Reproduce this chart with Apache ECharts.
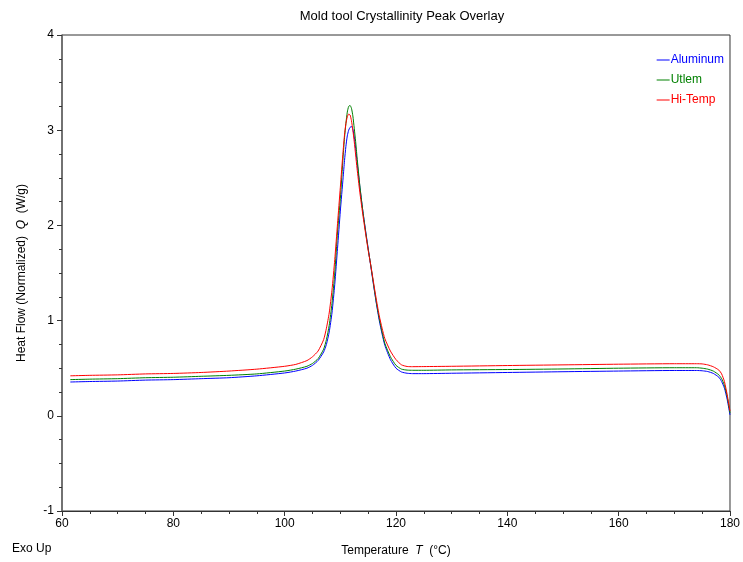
<!DOCTYPE html>
<html>
<head>
    <meta charset="utf-8">
    <title>Mold tool Crystallinity Peak Overlay</title>
    <script src="https://cdn.jsdelivr.net/npm/echarts@6/dist/echarts.min.js"></script>
    <style type="text/css">
        html, body { margin: 0; padding: 0; background: #fff; }
        #main { width: 743px; height: 562px; }
    </style>
</head>
<body>
    <div id="main"></div>
    <script type="text/javascript">
        // temperature (°C) shared by all three runs
        var temps = [61.5, 65, 70, 75, 80, 85, 90, 95, 100, 102, 104, 105, 106, 107, 107.5, 108, 108.5, 109, 109.5, 110,
            110.5, 110.75, 111, 111.25, 111.5, 111.75, 112, 112.25, 112.5, 112.75, 113, 113.5, 114, 114.5, 115, 115.5,
            116, 116.5, 117, 117.5, 118, 119, 120, 121, 122, 123, 125, 130, 140, 150, 160, 170, 174, 175, 176, 177,
            178, 178.5, 179, 179.5, 180];

        // heat flow (W/g)
        var aluminum = [0.355, 0.36, 0.365, 0.375, 0.38, 0.39, 0.40, 0.42, 0.45, 0.47, 0.50, 0.53, 0.58, 0.67, 0.75, 0.88,
            1.08, 1.38, 1.76, 2.15, 2.50, 2.68, 2.83, 2.94, 3.00, 3.03, 3.04, 3.01, 2.93, 2.81, 2.67, 2.41, 2.17, 1.96,
            1.76, 1.56, 1.36, 1.17, 1.00, 0.86, 0.74, 0.59, 0.50, 0.46, 0.447, 0.443, 0.443, 0.447, 0.455, 0.463, 0.47,
            0.476, 0.476, 0.473, 0.465, 0.445, 0.405, 0.36, 0.29, 0.17, 0.01];
        var utlem = [0.38, 0.385, 0.39, 0.40, 0.405, 0.415, 0.425, 0.44, 0.47, 0.49, 0.52, 0.55, 0.60, 0.70, 0.80, 0.95,
            1.18, 1.50, 1.93, 2.28, 2.72, 2.92, 3.07, 3.19, 3.25, 3.26, 3.23, 3.15, 3.02, 2.88, 2.72, 2.42, 2.17, 1.95,
            1.75, 1.57, 1.37, 1.18, 1.02, 0.88, 0.76, 0.62, 0.53, 0.49, 0.48, 0.478, 0.478, 0.482, 0.486, 0.492, 0.50,
            0.505, 0.505, 0.50, 0.49, 0.47, 0.43, 0.39, 0.32, 0.20, 0.03];
        var hiTemp = [0.42, 0.425, 0.43, 0.44, 0.445, 0.455, 0.47, 0.49, 0.52, 0.54, 0.58, 0.62, 0.68, 0.80, 0.92, 1.08,
            1.32, 1.64, 2.02, 2.40, 2.78, 2.95, 3.07, 3.14, 3.17, 3.16, 3.10, 3.00, 2.88, 2.74, 2.60, 2.35, 2.13, 1.93,
            1.74, 1.57, 1.39, 1.21, 1.05, 0.92, 0.81, 0.68, 0.59, 0.535, 0.518, 0.516, 0.517, 0.52, 0.528, 0.535, 0.542,
            0.547, 0.547, 0.545, 0.535, 0.515, 0.48, 0.44, 0.36, 0.22, 0.05];

        var names = ['Aluminum', 'Utlem', 'Hi-Temp'];
        var colors = ['#0000ff', '#008000', '#ff0000'];
        var values = [aluminum, utlem, hiTemp];

        var pairs = function (ys) {
            var res = [];
            for (var i = 0; i < temps.length; i++) {
                res.push([temps[i], ys[i]]);
            }
            return res;
        };

        var font = 'Liberation Sans, Arial, sans-serif';
        var myChart = echarts.init(document.getElementById('main'));

        var series = [];
        var legendData = [];
        for (var i = 0; i < names.length; i++) {
            series.push({
                name: names[i],
                type: 'line',
                data: pairs(values[i]),
                showSymbol: false,
                smooth: 0.2,
                color: colors[i],
                lineStyle: { width: 1, color: colors[i] }
            });
            legendData.push({ name: names[i], textStyle: { color: colors[i] } });
        }

        var option = {
            backgroundColor: '#fff',
            animation: false,
            title: {
                text: 'Mold tool Crystallinity Peak Overlay',
                left: 397,
                textAlign: 'center',
                top: 5,
                textStyle: { fontFamily: font, fontSize: 13, fontWeight: 'normal', color: '#000' }
            },
            legend: {
                orient: 'vertical',
                right: 14,
                top: 49,
                align: 'left',
                icon: 'rect',
                itemWidth: 13,
                itemHeight: 1,
                itemGap: 8,
                data: legendData,
                textStyle: { fontFamily: font, fontSize: 12, padding: [0, 0, 0, -4] }
            },
            grid: {
                left: 62, right: 11, top: 35, bottom: 51,
                show: true, borderColor: '#333', borderWidth: 1
            },
            xAxis: {
                type: 'value',
                min: 60, max: 180, interval: 20,
                name: '{a|Temperature  }{b|T}{a|  (°C)}',
                nameLocation: 'middle',
                nameGap: 34,
                nameTextStyle: {
                    rich: {
                        a: { fontFamily: font, fontSize: 12, color: '#000' },
                        b: { fontFamily: font, fontSize: 12, color: '#000', fontStyle: 'italic' }
                    }
                },
                axisLine: { onZero: false, lineStyle: { color: '#333' } },
                axisTick: { length: 5, lineStyle: { color: '#333' } },
                minorTick: { show: true, splitNumber: 4, length: 3, lineStyle: { color: '#333' } },
                axisLabel: { fontFamily: font, fontSize: 12, color: '#000', margin: 7 },
                splitLine: { show: false }
            },
            yAxis: {
                type: 'value',
                min: -1, max: 4, interval: 1,
                name: '{a|Heat Flow (Normalized)  }{b|Q}{a|  (W/g)}',
                nameLocation: 'middle',
                nameGap: 34,
                nameTextStyle: {
                    rich: {
                        a: { fontFamily: font, fontSize: 12, color: '#000' },
                        b: { fontFamily: font, fontSize: 12, color: '#000', fontStyle: 'italic' }
                    }
                },
                axisLine: { show: true, onZero: false, lineStyle: { color: '#666', width: 1.5 } },
                axisTick: { show: true, length: 5, lineStyle: { color: '#333' } },
                minorTick: { show: true, splitNumber: 4, length: 3, lineStyle: { color: '#333' } },
                axisLabel: { fontFamily: font, fontSize: 12, color: '#000', margin: 8 },
                splitLine: { show: false }
            },
            graphic: [{
                type: 'text',
                left: 12,
                top: 543,
                style: { text: 'Exo Up', fontFamily: font, fontSize: 12, fill: '#000' }
            }],
            series: series
        };

        myChart.setOption(option);
    </script>
</body>
</html>
